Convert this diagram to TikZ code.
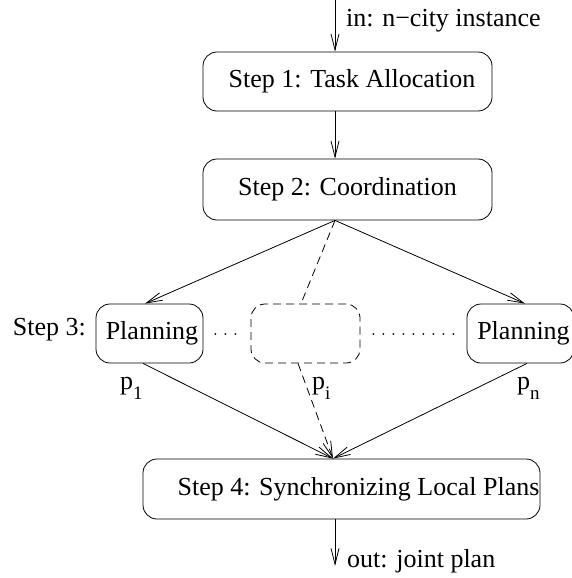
\documentclass[tikz,border=0pt]{standalone}
\usepackage{fontspec}
\setmainfont{Liberation Serif}
\usetikzlibrary{arrows.meta}
\begin{document}
\begin{tikzpicture}[x=1pt,y=-1pt,
  font=\fontsize{26}{30}\selectfont,
  box/.style={draw, rounded corners=14pt, inner sep=0pt, line width=0.8pt, minimum height=59pt},
  conn/.style={line width=0.8pt, -{Straight Barb[length=16pt,width=8pt,line width=0.8pt]}},
  dashline/.style={line width=0.8pt, dash pattern=on 8pt off 5pt},
  dashconn/.style={conn, dash pattern=on 8pt off 5pt},
  dotline/.style={line width=2pt, line cap=round, dash pattern=on 0.01pt off 10pt},
  lab/.style={inner sep=0pt, anchor=base west}]
\useasboundingbox (0,0) rectangle (572,578);
\node[box, minimum width=289pt] (s1) at (347.5,81.5) {\hspace*{9pt}Step 1: Task Allocation};
\node[box, minimum width=289pt, minimum height=61pt] (s2) at (347.5,189.5) {Step 2: Coordination};
\node[box, minimum width=107pt] (p1) at (149.5,333.5) {\hspace*{5pt}Planning};
\node[box, dashline, minimum width=109pt] (pd) at (305.5,333.5) {};
\node[box, minimum width=107pt] (pn) at (520.5,333.5) {\hspace*{6pt}Planning};
\node[box, minimum width=397pt, minimum height=60pt] (s4) at (341.5,489) {\hspace*{34pt}Step 4: Synchronizing Local Plans};
\coordinate (inTop) at (335,0);
\coordinate (outEnd) at (335,566);
\draw[conn] (inTop) -- (inTop |- s1.north);
\draw[conn] (s1.south -| inTop) -- (s2.north -| inTop);
\draw[conn] (s2.south -| inTop) -- ([xshift=-4.5pt]p1.north);
\draw[conn] (s2.south -| inTop) -- ([xshift=4.5pt]pn.north);
\draw[dashline] (s2.south -| inTop) -- ([xshift=-4.5pt]pd.north);
\draw[dashconn] ([xshift=-7.5pt]pd.south) -- ([xshift=-8.5pt]s4.north);
\draw[conn] ([xshift=-6.5pt]p1.south) -- ([xshift=-8.5pt]s4.north);
\draw[conn] ([xshift=6.5pt]pn.south) -- ([xshift=-8.5pt]s4.north);
\draw[conn] (s4.south -| inTop) -- (outEnd);
\draw[dotline] ([xshift=12pt]p1.east) -- ([xshift=-14pt]pd.west);
\draw[dotline] ([xshift=13pt]pd.east) -- ([xshift=-12pt]pn.west);
\node[lab] (inlab) at (346,27) {in: n−city instance};
\node[lab] (outlab) at (347,567) {out: joint plan};
\node[inner sep=0pt, anchor=base east] (st3) at (86,335) {Step 3:};
\node[lab] (l1) at (120,389) {p\raisebox{-10pt}{\fontsize{19}{19}\selectfont 1}};
\node[lab] (li) at (312,389) {p\raisebox{-10pt}{\fontsize{19}{19}\selectfont i}};
\node[lab] (ln) at (517,389) {p\raisebox{-10pt}{\fontsize{19}{19}\selectfont n}};
\end{tikzpicture}
\end{document}
